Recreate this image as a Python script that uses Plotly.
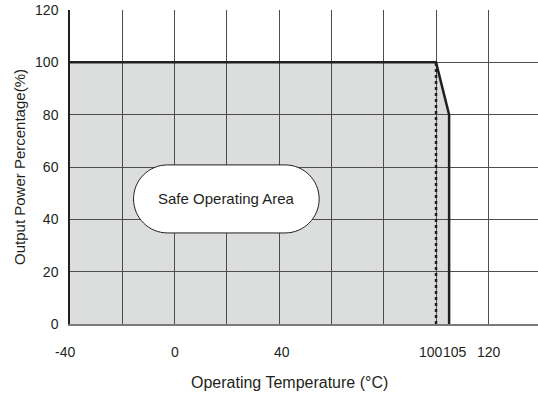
import plotly.graph_objects as go

# ---- data ----
TEMP = [-40, 100, 105, 105]          # derating curve, x (°C)
POWER = [100, 100, 80, 0]            # derating curve, y (%)
LIMIT_TEMP = [100, 100]              # dotted limit line
LIMIT_POWER = [0, 100]
X_TICKS = [-40, 0, 40, 100, 105, 120]
X_TICK_TEXT = ["-40", "0", "40", "100", "105", "120"]
Y_TICKS = [0, 20, 40, 60, 80, 100, 120]
Y_TICK_TEXT = ["0", "20", "40", "60", "80", "100", "120"]
AREA_LABEL = "Safe Operating Area"
X_TITLE = "Operating Temperature (°C)"
Y_TITLE = "Output Power Percentage(%)"

# ---- styles ----
INK = "#231f20"
GRID = "#4d4d4d"
FILL = "#dcdedd"
FONT = "Liberation Sans, Arial, sans-serif"
X_LABEL_SHIFT = [-5, 0, 3, -5, 6, 1]
BOX = dict(cx=19.8, cy=47.8, w=71.0, h=26.0)   # label box in data units

fig = go.Figure()

# filled safe area (shape below gridlines), built from the curve data
pts = [(TEMP[0], 0)] + list(zip(TEMP, POWER))
area_path = "M " + " L ".join(f"{x},{y}" for x, y in pts) + " Z"
fig.add_shape(type="path", path=area_path, xref="x", yref="y",
              fillcolor=FILL, line=dict(width=0), layer="below")

fig.add_trace(go.Scatter(x=TEMP, y=POWER, mode="lines",
                         line=dict(color=INK, width=2.5),
                         hoverinfo="skip", showlegend=False))
fig.add_trace(go.Scatter(x=LIMIT_TEMP, y=LIMIT_POWER, mode="lines",
                         line=dict(color=INK, width=2.5, dash="dot"),
                         hoverinfo="skip", showlegend=False))

# rounded label box
k = 0.5523
x0, x1 = BOX["cx"] - BOX["w"] / 2, BOX["cx"] + BOX["w"] / 2
y0, y1 = BOX["cy"] - BOX["h"] / 2, BOX["cy"] + BOX["h"] / 2
ry = BOX["h"] / 2
rx = ry * 1.0
cy = BOX["cy"]
p = (f"M {x0+rx},{y1} L {x1-rx},{y1} "
     f"C {x1-rx+k*rx},{y1} {x1},{cy+k*ry} {x1},{cy} "
     f"C {x1},{cy-k*ry} {x1-rx+k*rx},{y0} {x1-rx},{y0} "
     f"L {x0+rx},{y0} "
     f"C {x0+rx-k*rx},{y0} {x0},{cy-k*ry} {x0},{cy} "
     f"C {x0},{cy+k*ry} {x0+rx-k*rx},{y1} {x0+rx},{y1} Z")
fig.add_shape(type="path", path=p, xref="x", yref="y",
              fillcolor="white", line=dict(color=INK, width=1), layer="above")
fig.add_annotation(x=BOX["cx"], y=BOX["cy"], xref="x", yref="y", text=AREA_LABEL,
                   showarrow=False, font=dict(family=FONT, size=15, color=INK))

# x tick labels
for v, t, s in zip(X_TICKS, X_TICK_TEXT, X_LABEL_SHIFT):
    fig.add_annotation(x=v, y=0, xref="x", yref="y", text=t, showarrow=False,
                       xanchor="center", yanchor="middle", xshift=s, yshift=-28,
                       font=dict(family=FONT, size=14, color=INK))

# x axis title
fig.add_annotation(x=0.47, y=0, xref="paper", yref="paper", text=X_TITLE,
                   showarrow=False, xanchor="center", yanchor="middle", yshift=-58,
                   font=dict(family=FONT, size=16, color=INK))

fig.update_layout(
    width=538, height=394,
    margin=dict(l=70, r=0, t=10, b=70),
    paper_bgcolor="white", plot_bgcolor="white",
    font=dict(family=FONT, size=14, color=INK),
    xaxis=dict(range=[-40, 139], tick0=-40, dtick=20, showgrid=True,
               gridcolor=GRID, gridwidth=1, zeroline=False,
               showticklabels=False, ticks="",
               showline=True, linecolor="#7a7a7a", linewidth=2,
               automargin=False),
    yaxis=dict(range=[0, 120], tickvals=Y_TICKS, ticktext=Y_TICK_TEXT,
               showgrid=True, gridcolor=GRID, gridwidth=1, zeroline=False,
               ticks="outside", ticklen=7, tickcolor="rgba(0,0,0,0)",
               showline=True, linecolor=INK, linewidth=1.5,
               tickfont=dict(family=FONT, size=14, color=INK),
               title=dict(text=Y_TITLE, standoff=6,
                          font=dict(family=FONT, size=15, color=INK)),
               automargin=False),
)

fig.write_html("out.html", config={"displayModeBar": False},
               post_script="document.body.style.margin='0';"
                           "document.body.style.overflow='hidden';")
